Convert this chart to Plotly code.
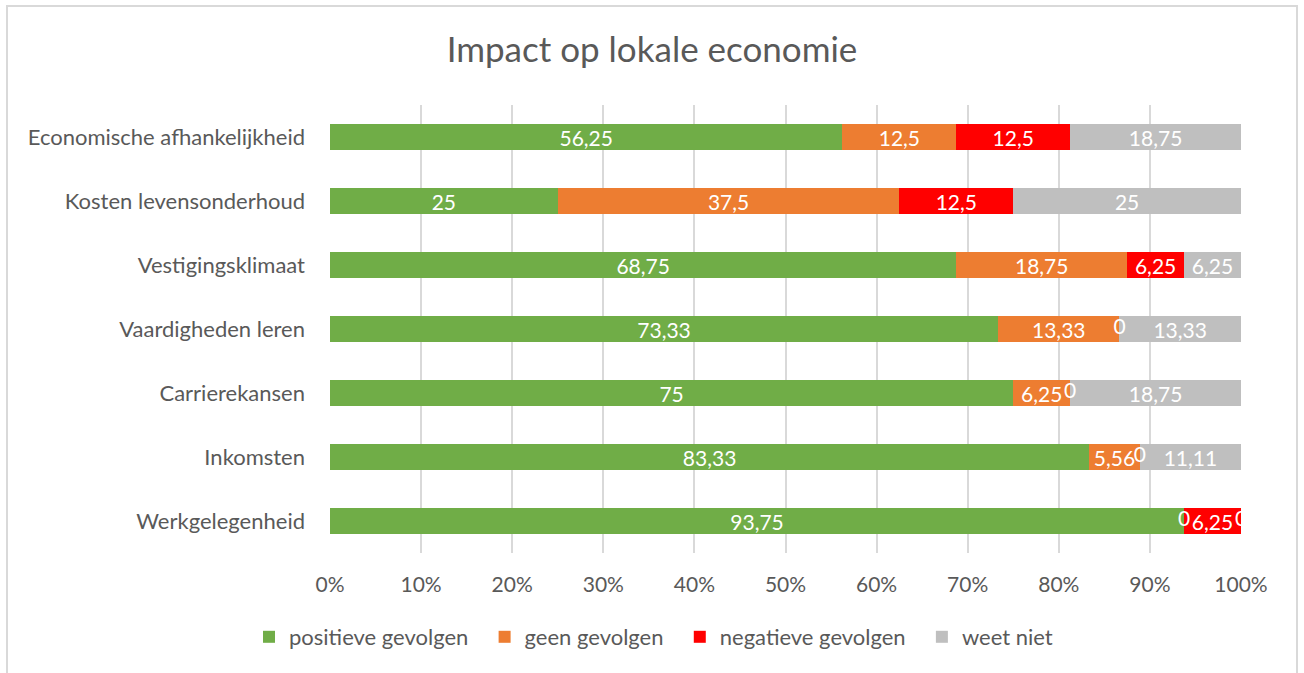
import plotly.graph_objects as go

# Categories listed bottom to top (plotly draws first category at the bottom)
CATEGORIES = [
    "Werkgelegenheid",
    "Inkomsten",
    "Carrierekansen",
    "Vaardigheden leren",
    "Vestigingsklimaat",
    "Kosten levensonderhoud",
    "Economische afhankelijkheid",
]

POSITIEF = [93.75, 83.33, 75, 73.33, 68.75, 25, 56.25]
GEEN = [0, 5.56, 6.25, 13.33, 18.75, 37.5, 12.5]
NEGATIEF = [6.25, 0, 0, 0, 6.25, 12.5, 12.5]
WEET_NIET = [0, 11.11, 18.75, 13.33, 6.25, 25, 18.75]

SERIES_NAMES = ["positieve gevolgen", "geen gevolgen", "negatieve gevolgen", "weet niet"]
SERIES_COLORS = ["#70AD47", "#ED7D31", "#FF0000", "#BFBFBF"]

X_TICKS = [0, 10, 20, 30, 40, 50, 60, 70, 80, 90, 100]
X_TICK_TEXT = [f"{t}%" for t in X_TICKS]

FONT = "Lato, 'Open Sans', sans-serif"
TEXT_GRAY = "#595959"
GRID = "#D9D9D9"

W, H = 1304, 673
PLOT_L, PLOT_R, PLOT_T, PLOT_B = 330, 1241, 105, 553  # pixels
PW, PH = PLOT_R - PLOT_L, PLOT_B - PLOT_T


def fmt(v):
    s = f"{v:.2f}".rstrip("0").rstrip(".")
    return s.replace(".", ",")


fig = go.Figure()

series = [POSITIEF, GEEN, NEGATIEF, WEET_NIET]
zero_x, zero_y = [], []
cum = [0.0] * len(CATEGORIES)
for name, color, vals in zip(SERIES_NAMES, SERIES_COLORS, series):
    fig.add_trace(
        go.Bar(
            y=CATEGORIES,
            x=vals,
            orientation="h",
            # nbsp padding widens the gap between legend entries
            name=name + "\u00a0\u00a0",
            marker=dict(color=color, line=dict(width=0)),
            text=[fmt(v) if v > 0 else "" for v in vals],
            textposition="inside",
            insidetextanchor="middle",
            textangle=0,
            constraintext="none",
            textfont=dict(color="white", size=21, family=FONT),
            hoverinfo="skip",
        )
    )
    # zero values still get a "0" label at the segment boundary
    for i, v in enumerate(vals):
        if v == 0:
            zero_x.append(cum[i])
            zero_y.append(CATEGORIES[i])
        cum[i] += v

fig.add_trace(
    go.Scatter(
        x=zero_x,
        y=zero_y,
        mode="text",
        text=["0"] * len(zero_x),
        textposition="middle center",
        textfont=dict(color="white", size=21, family=FONT),
        showlegend=False,
        hoverinfo="skip",
        cliponaxis=True,
    )
)

fig.update_layout(
    width=W,
    height=H,
    barmode="stack",
    bargap=0.59,
    plot_bgcolor="white",
    paper_bgcolor="white",
    font=dict(family=FONT, color=TEXT_GRAY),
    margin=dict(l=PLOT_L, r=W - PLOT_R, t=PLOT_T, b=H - PLOT_B),
    title=dict(
        text="Impact op lokale economie",
        x=652 / W,
        xref="container",
        xanchor="center",
        y=1 - 50 / H,
        yref="container",
        yanchor="middle",
        font=dict(size=35, color=TEXT_GRAY, family=FONT),
    ),
    xaxis=dict(
        range=[0, 100],
        tickvals=X_TICKS,
        ticktext=X_TICK_TEXT,
        showgrid=True,
        gridcolor=GRID,
        gridwidth=1.5,
        zeroline=False,
        showline=False,
        tickfont=dict(size=21, color=TEXT_GRAY),
        ticklabelstandoff=17,
        fixedrange=True,
    ),
    yaxis=dict(
        categoryorder="array",
        categoryarray=CATEGORIES,
        showgrid=False,
        zeroline=False,
        showline=False,
        tickfont=dict(size=22, color=TEXT_GRAY),
        ticklabelstandoff=24,
    ),
    legend=dict(
        orientation="h",
        x=(249 - PLOT_L) / PW,
        xanchor="left",
        y=-(637 - PLOT_B) / PH,
        yanchor="middle",
        font=dict(size=22, color=TEXT_GRAY),
        traceorder="normal",
        itemwidth=30,
    ),
    shapes=[
        dict(
            type="rect",
            xref="paper",
            yref="paper",
            x0=(7 - PLOT_L) / PW,
            x1=(1297 - PLOT_L) / PW,
            y0=-0.4,
            y1=(PLOT_B - 6) / PH,
            line=dict(color=GRID, width=2),
            fillcolor="rgba(0,0,0,0)",
            layer="below",
        )
    ],
)

fig.write_html(
    "out.html",
    config={"displayModeBar": False},
    post_script="document.body.style.margin = '0';",
)
